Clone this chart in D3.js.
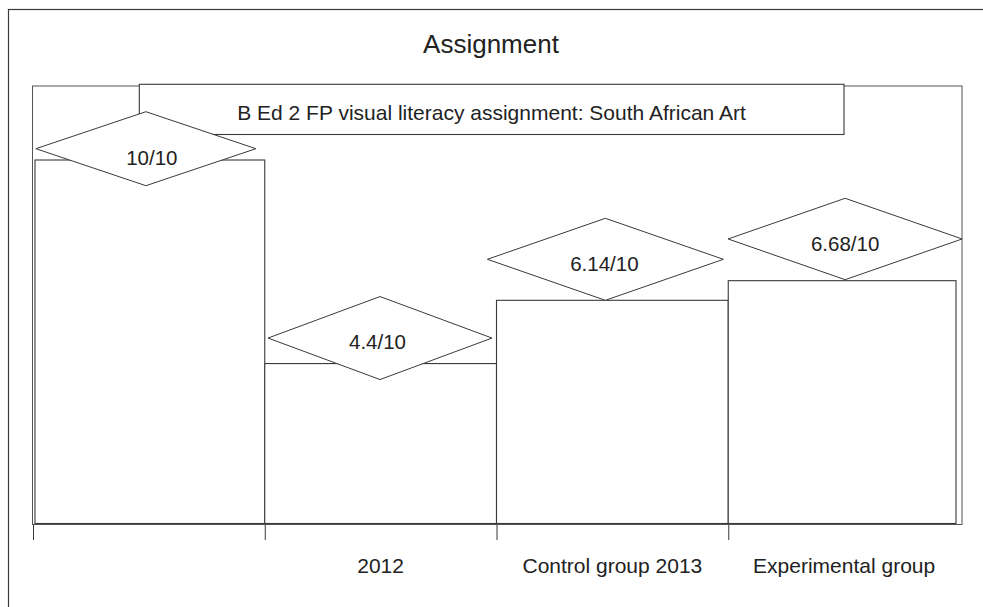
<!DOCTYPE html>
<html>
<head>
<meta charset="utf-8">
<script src="https://cdn.jsdelivr.net/npm/d3@7"></script>
<style>
  html, body { margin: 0; padding: 0; background: #fff; }
  svg { display: block; font-family: "Liberation Sans", Arial, sans-serif; }
</style>
</head>
<body>
<svg id="chart" width="983" height="607"></svg>
<script>
// ---- data ----
const categories = ["", "2012", "Control group 2013", "Experimental group"];
const scores = [10, 4.4, 6.14, 6.68];
const scoreLabels = ["10/10", "4.4/10", "6.14/10", "6.68/10"];
const chartTitle = "Assignment";
const chartSubtitle = "B Ed 2 FP visual literacy assignment: South African Art";

// ---- layout (not data) ----
const plot = { left: 32.5, right: 962, top: 86, bottom: 524.5 };
const diamondLayout = [
  { dx: -3,  dy: 25.7, hw: 110, hh: 37,  tdx: 6,  tdy: 16 },
  { dx: -0.6, dy: 16,  hw: 112, hh: 41.5, tdx: -2.5, tdy: 10.6 },
  { dx: -7,  dy: 0,    hw: 118, hh: 41,  tdx: -1, tdy: 12 },
  { dx: 1,   dy: -1,   hw: 117, hh: 40.7, tdx: 0, tdy: 12 }
];
const ink = "#3a3a3a";
const textInk = "#222";

const svg = d3.select("#chart");

const x = d3.scaleBand().domain(categories).range([33, 960]).padding(0);
const y = d3.scaleLinear().domain([0, 10]).range([523.5, 160]);

// outer frame
svg.append("rect")
  .attr("x", 8.5).attr("y", 9.5).attr("width", 1000).attr("height", 700)
  .attr("fill", "none").attr("stroke", ink).attr("stroke-width", 1.2);

// title
svg.append("text")
  .attr("x", 491).attr("y", 53.3)
  .attr("text-anchor", "middle")
  .attr("font-size", 26).attr("fill", textInk)
  .text(chartTitle);

// plot area frame
svg.append("rect")
  .attr("x", plot.left).attr("y", plot.top)
  .attr("width", plot.right - plot.left).attr("height", plot.bottom - plot.top)
  .attr("fill", "none").attr("stroke", "#555").attr("stroke-width", 1);

// bars
svg.append("g").selectAll("rect")
  .data(scores)
  .join("rect")
  .attr("x", (d, i) => Math.max(x(categories[i]), plot.left + 2.5))
  .attr("width", (d, i) => {
    const x0 = Math.max(x(categories[i]), plot.left + 2.5);
    const x1 = Math.min(x(categories[i]) + x.bandwidth(), plot.right - 6);
    return x1 - x0;
  })
  .attr("y", d => y(d))
  .attr("height", d => y(0) - y(d))
  .attr("fill", "#fff").attr("stroke", ink).attr("stroke-width", 1.1);

// x axis ticks (no domain line, labels offset)
const xAxis = d3.axisBottom(x).tickSize(0).tickFormat(d => d);
const gx = svg.append("g").attr("transform", `translate(0,${plot.bottom})`).call(xAxis);
gx.select(".domain").remove();
gx.selectAll(".tick line").remove();
gx.selectAll(".tick text")
  .attr("y", 48.5).attr("dy", 0)
  .attr("font-size", 21).attr("fill", textInk)
  .attr("font-family", "Liberation Sans, Arial, sans-serif");

// boundary ticks at the left edge of each band
svg.append("g").selectAll("line")
  .data(categories)
  .join("line")
  .attr("x1", d => x(d) + 0.5).attr("x2", d => x(d) + 0.5)
  .attr("y1", plot.bottom).attr("y2", 540)
  .attr("stroke", ink).attr("stroke-width", 1);

// subtitle box
svg.append("rect")
  .attr("x", 139.3).attr("y", 84.3).attr("width", 844 - 139.3).attr("height", 134.5 - 84.3)
  .attr("fill", "#fff").attr("stroke", ink).attr("stroke-width", 1.1);
svg.append("text")
  .attr("x", 491.5).attr("y", 120)
  .attr("text-anchor", "middle")
  .attr("font-size", 21).attr("fill", textInk)
  .text(chartSubtitle);

// diamonds with value labels
const dg = svg.append("g").selectAll("g")
  .data(scores)
  .join("g")
  .each(function(d, i) {
    const L = diamondLayout[i];
    const cx = x(categories[i]) + x.bandwidth() / 2 + L.dx;
    const bottom = y(d) + L.dy;
    const cy = bottom - L.hh;
    const g = d3.select(this);
    g.append("path")
      .attr("d", `M${cx - L.hw},${cy} L${cx},${cy - L.hh} L${cx + L.hw},${cy} L${cx},${cy + L.hh} Z`)
      .attr("fill", "#fff").attr("stroke", ink).attr("stroke-width", 1);
    g.append("text")
      .attr("x", cx + L.tdx).attr("y", cy + L.tdy)
      .attr("text-anchor", "middle")
      .attr("font-size", 20.5).attr("fill", textInk)
      .text(scoreLabels[i]);
  });
</script>
</body>
</html>
